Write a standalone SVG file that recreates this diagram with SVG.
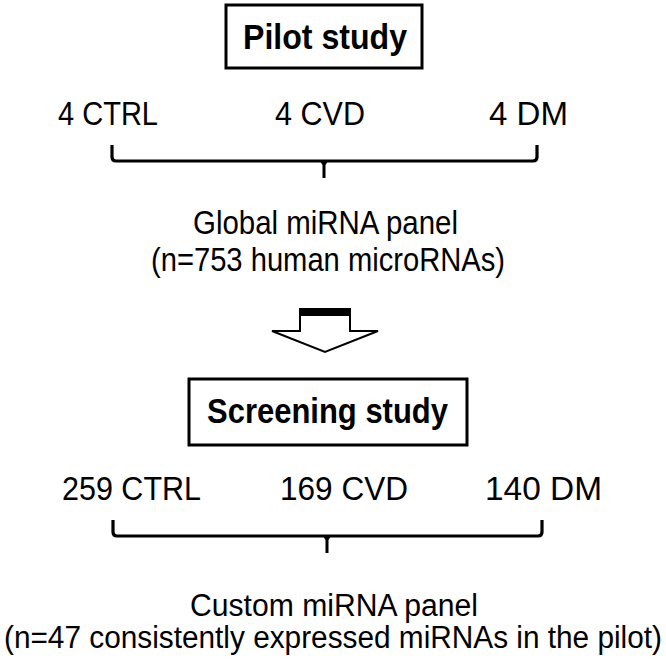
<svg xmlns="http://www.w3.org/2000/svg" width="666" height="660" viewBox="0 0 666 660">
<style>
.lbl{font-family:"Liberation Sans",Arial,sans-serif;font-size:33px;fill:#000}
.sm{font-size:31px}
.ttl{font-family:"Liberation Sans",Arial,sans-serif;font-size:35px;font-weight:bold;fill:#000}
.box{fill:#fff;stroke:#000;stroke-width:3}
.br{fill:none;stroke:#000;stroke-width:3.2;stroke-linejoin:round}
</style>
<rect width="666" height="660" fill="#fff"/>
<g id="pilot">
<rect class="box" x="226" y="5" width="196" height="63"/>
<text class="ttl" x="243" y="49" textLength="164" lengthAdjust="spacingAndGlyphs">Pilot study</text>
</g>
<g id="pilot-groups">
<text class="lbl" x="58" y="125" textLength="100" lengthAdjust="spacingAndGlyphs">4 CTRL</text>
<text class="lbl" x="275" y="125" textLength="90" lengthAdjust="spacingAndGlyphs">4 CVD</text>
<text class="lbl" x="489" y="125" textLength="79" lengthAdjust="spacingAndGlyphs">4 DM</text>
</g>
<g id="global-panel">
<text class="lbl" x="193" y="234" textLength="265" lengthAdjust="spacingAndGlyphs">Global miRNA panel</text>
<text class="lbl" x="151" y="271" textLength="354" lengthAdjust="spacingAndGlyphs">(n=753 human microRNAs)</text>
</g>
<g id="screening">
<rect class="box" x="189" y="379" width="278" height="66"/>
<text class="ttl" x="207" y="423" textLength="241" lengthAdjust="spacingAndGlyphs">Screening study</text>
</g>
<g id="screening-groups">
<text class="lbl" x="62" y="500" textLength="139" lengthAdjust="spacingAndGlyphs">259 CTRL</text>
<text class="lbl" x="280" y="500" textLength="128" lengthAdjust="spacingAndGlyphs">169 CVD</text>
<text class="lbl" x="485" y="500" textLength="117" lengthAdjust="spacingAndGlyphs">140 DM</text>
</g>
<g id="custom-panel">
<text class="lbl sm" x="190" y="616" textLength="288" lengthAdjust="spacingAndGlyphs">Custom miRNA panel</text>
<text class="lbl sm" x="4" y="648" textLength="658" lengthAdjust="spacingAndGlyphs">(n=47 consistently expressed miRNAs in the pilot)</text>
</g>
<g id="connectors">
<path class="br" d="M112,145 V157 Q112,161 116,161 H533 Q537,161 537,157 V145"/>
<path d="M320,161 L328,161 L325.5,165 L325.5,178 L322.5,178 L322.5,165 Z" fill="#000"/>
<path class="br" d="M113,520 V532 Q113,536 117,536 H538 Q542,536 542,532 V520"/>
<path d="M323,536 L331,536 L328.5,540 L328.5,553 L325.5,553 L325.5,540 Z" fill="#000"/>
<path d="M300,313 H350 V331 H378 L325,352 L272,331 H300 Z" fill="#fff" stroke="#000" stroke-width="2" stroke-linejoin="miter"/>
<rect x="299" y="308" width="52" height="8" fill="#000"/>
</g>
</svg>
